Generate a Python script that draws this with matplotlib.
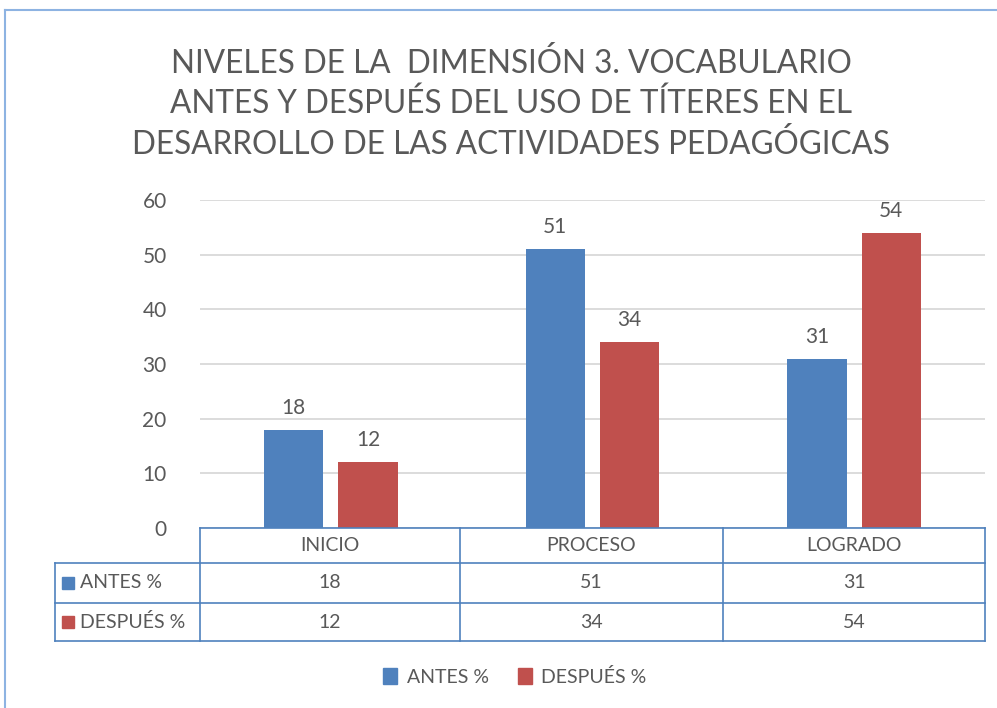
import matplotlib
matplotlib.use("Agg")
import matplotlib.pyplot as plt
import numpy as np
from matplotlib.patches import Rectangle
from matplotlib.lines import Line2D

categories = ["INICIO", "PROCESO", "LOGRADO"]
series_names = ["ANTES %", "DESPUÉS %"]
antes = [18, 51, 31]
despues = [12, 34, 54]
yticks = [0, 10, 20, 30, 40, 50, 60]
title = "NIVELES DE LA  DIMENSIÓN 3. VOCABULARIO\nANTES Y DESPUÉS DEL USO DE TÍTERES EN EL\nDESARROLLO DE LAS ACTIVIDADES PEDAGÓGICAS"

BLUE = "#4F81BD"
RED = "#C0504D"
GREY = "#595959"
EDGE = "#4F81BD"

plt.rcParams['font.family'] = ['Lato', 'DejaVu Sans']

W, H = 997, 708
fig = plt.figure(figsize=(W / 100, H / 100), dpi=100)

def fx(px):
    return px / W

def fy(py):
    return 1 - py / H

# outer border
fig.add_artist(Line2D([fx(5), fx(997)], [fy(10), fy(10)], color="#8DB3E2", lw=1.5))
fig.add_artist(Line2D([fx(5), fx(5)], [fy(10), fy(708)], color="#8DB3E2", lw=1.5))

ax = fig.add_axes([fx(200), fy(528), fx(985) - fx(200), fy(200) - fy(528)])
x = np.arange(len(categories))
bw = 0.227
gap = 0.057
ax.bar(x - (bw + gap) / 2, antes, bw, color=BLUE, zorder=3)
ax.bar(x + (bw + gap) / 2, despues, bw, color=RED, zorder=3)
for i in range(len(categories)):
    ax.text(x[i] - (bw + gap) / 2, antes[i] + 2.2, str(antes[i]), ha="center", va="bottom",
            fontsize=15, color=GREY)
    ax.text(x[i] + (bw + gap) / 2, despues[i] + 2.2, str(despues[i]), ha="center", va="bottom",
            fontsize=15, color=GREY)

ax.set_xlim(-0.5, len(categories) - 0.5)
ax.set_ylim(0, 60)
ax.set_yticks(yticks)
ax.set_yticklabels([str(t) for t in yticks], fontsize=15, color=GREY)
ax.tick_params(axis="y", length=0, pad=24)
ax.set_xticks([])
ax.grid(axis="y", color="#D9D9D9", lw=1.3, zorder=0)
for s in ax.spines.values():
    s.set_visible(False)

# title
fig.text(fx(511), fy(104), title, ha="center", va="center", fontsize=22.7, color=GREY,
         linespacing=1.38)

# data table
rows_y = [528, 563, 603, 641]
col_x = [55, 200, 460, 723, 985]
lw = 1.2
fig.add_artist(Line2D([fx(200), fx(985)], [fy(528), fy(528)], color=EDGE, lw=lw))
for yy in rows_y[1:]:
    fig.add_artist(Line2D([fx(55), fx(985)], [fy(yy), fy(yy)], color=EDGE, lw=lw))
fig.add_artist(Line2D([fx(55), fx(55)], [fy(563), fy(641)], color=EDGE, lw=lw))
for xx in col_x[1:]:
    fig.add_artist(Line2D([fx(xx), fx(xx)], [fy(528), fy(641)], color=EDGE, lw=lw))

table_vals = [antes, despues]
colors = [BLUE, RED]
for j, cat in enumerate(categories):
    cx = (col_x[j + 1] + col_x[j + 2]) / 2
    fig.text(fx(cx), fy((rows_y[0] + rows_y[1]) / 2), cat, ha="center", va="center",
             fontsize=14, color=GREY)
    for r in range(2):
        fig.text(fx(cx), fy((rows_y[r + 1] + rows_y[r + 2]) / 2), str(table_vals[r][j]),
                 ha="center", va="center", fontsize=14, color=GREY)
for r in range(2):
    cy = (rows_y[r + 1] + rows_y[r + 2]) / 2
    fig.add_artist(Rectangle((fx(62), fy(cy + 6)), fx(12), fy(0) - fy(12), color=colors[r]))
    fig.text(fx(80), fy(cy), series_names[r], ha="left", va="center", fontsize=14, color=GREY)

# legend
handles = [Rectangle((0, 0), 1, 1, color=c) for c in colors]
fig.legend(handles, series_names, loc="center", bbox_to_anchor=(fx(515), fy(677)), ncol=2,
           frameon=False, fontsize=14, labelcolor=GREY, handlelength=0.7, handleheight=0.9,
           handletextpad=0.5, columnspacing=1.5)

fig.savefig("out.png", dpi=100)
